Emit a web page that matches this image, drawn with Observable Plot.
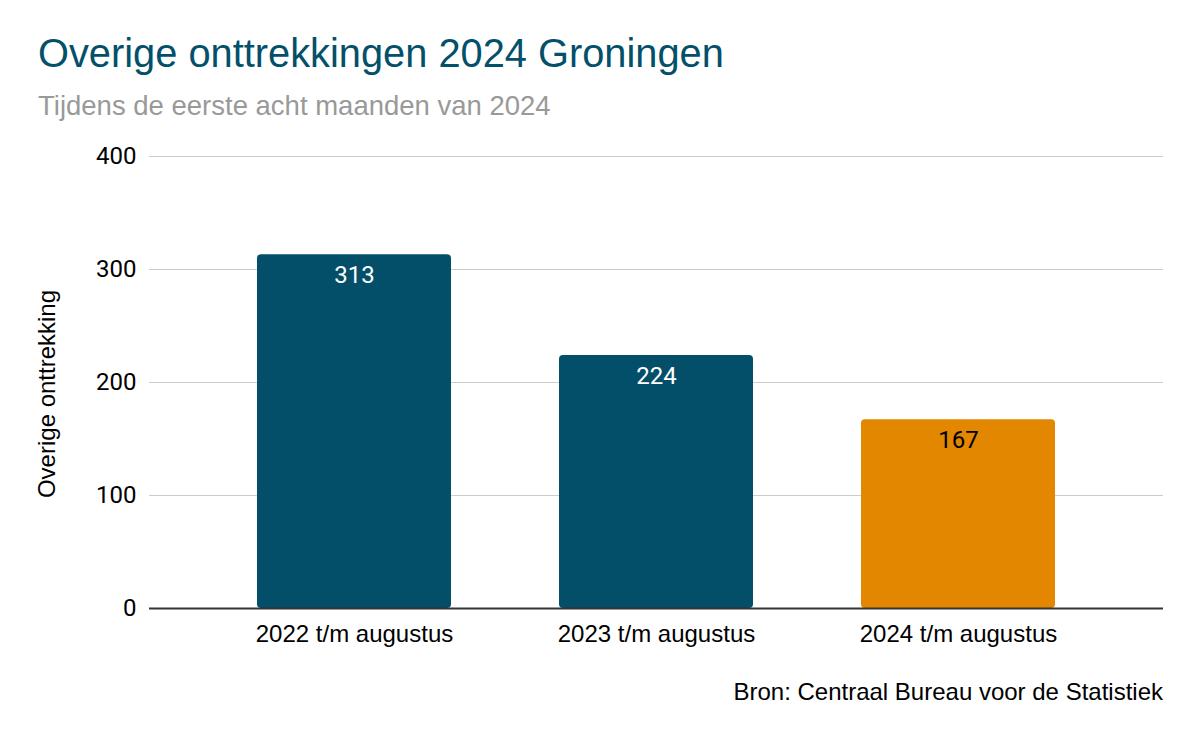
<!DOCTYPE html>
<html>
<head>
<meta charset="utf-8">
<script src="https://cdn.jsdelivr.net/npm/d3@7"></script>
<script src="https://cdn.jsdelivr.net/npm/@observablehq/plot@0.6"></script>
<style>
  html, body { margin: 0; padding: 0; background: #fff; }
  #wrap { position: relative; width: 1200px; height: 742px; overflow: hidden; }
  #title { position: absolute; left: 38px; top: 34px; font-family: "Liberation Sans", Arial, sans-serif; font-size: 39.8px; color: #03506a; white-space: nowrap; line-height: 1; }
  #subtitle { position: absolute; left: 38px; top: 92px; font-family: "Liberation Sans", Arial, sans-serif; font-size: 27.5px; color: #999999; white-space: nowrap; line-height: 1; }
  #chart { position: absolute; left: 0; top: 130px; }
  #ylabel { position: absolute; left: 47px; top: 394px; transform: translate(-50%, -50%) rotate(-90deg); font-family: "Liberation Sans", Arial, sans-serif; font-size: 24px; line-height: 24px; color: #000; white-space: nowrap; }
  #caption { position: absolute; right: 37px; top: 680px; font-family: "Liberation Sans", Arial, sans-serif; font-size: 24px; color: #000; white-space: nowrap; line-height: 1; }
</style>
</head>
<body>
<div id="wrap">
  <div id="title">Overige onttrekkingen 2024 Groningen</div>
  <div id="subtitle">Tijdens de eerste acht maanden van 2024</div>
  <div id="chart"></div>
  <div id="ylabel"></div>
  <div id="caption">Bron: Centraal Bureau voor de Statistiek</div>
</div>
<script>
const categories = ["2022 t/m augustus", "2023 t/m augustus", "2024 t/m augustus"];
const values = [313, 224, 167];
const yTicks = [0, 100, 200, 300, 400];
const yLabel = "Overige onttrekking";
const highlighted = "2024 t/m augustus";

const data = categories.map((c, i) => ({category: c, value: values[i]}));

const chart = Plot.plot({
  width: 1200,
  height: 540,
  marginTop: 26,
  marginBottom: 62,
  marginLeft: 149,
  marginRight: 37,
  style: {fontFamily: "Liberation Sans, Arial, sans-serif", fontSize: "24px", color: "#000", background: "#fff"},
  x: {domain: categories, padding: 0.357, label: null},
  y: {domain: [0, 400], ticks: yTicks, label: null},
  marks: [
    Plot.gridY(yTicks, {stroke: "#cccccc", strokeOpacity: 1, strokeWidth: 1.2}),
    Plot.barY(data, {
      x: "category", y: "value", rx: 4,
      fill: d => d.category === highlighted ? "#e38600" : "#034f69"
    }),
    Plot.ruleY([0], {stroke: "#333333", strokeWidth: 2}),
    Plot.text(data, {
      x: "category", y: "value", text: d => String(d.value), dy: 21,
      fontSize: 24, fontFamily: "Roboto, sans-serif",
      fill: d => d.category === highlighted ? "#000000" : "#ffffff"
    }),
    Plot.axisX({tickSize: 0, tickPadding: 16, fontSize: 24, label: null}),
    Plot.axisY({ticks: yTicks, tickSize: 0, tickPadding: 13, fontSize: 24, fontFamily: "Roboto, sans-serif", label: null})
  ]
});
document.getElementById("chart").appendChild(chart);
document.getElementById("ylabel").textContent = yLabel;
</script>
</body>
</html>
